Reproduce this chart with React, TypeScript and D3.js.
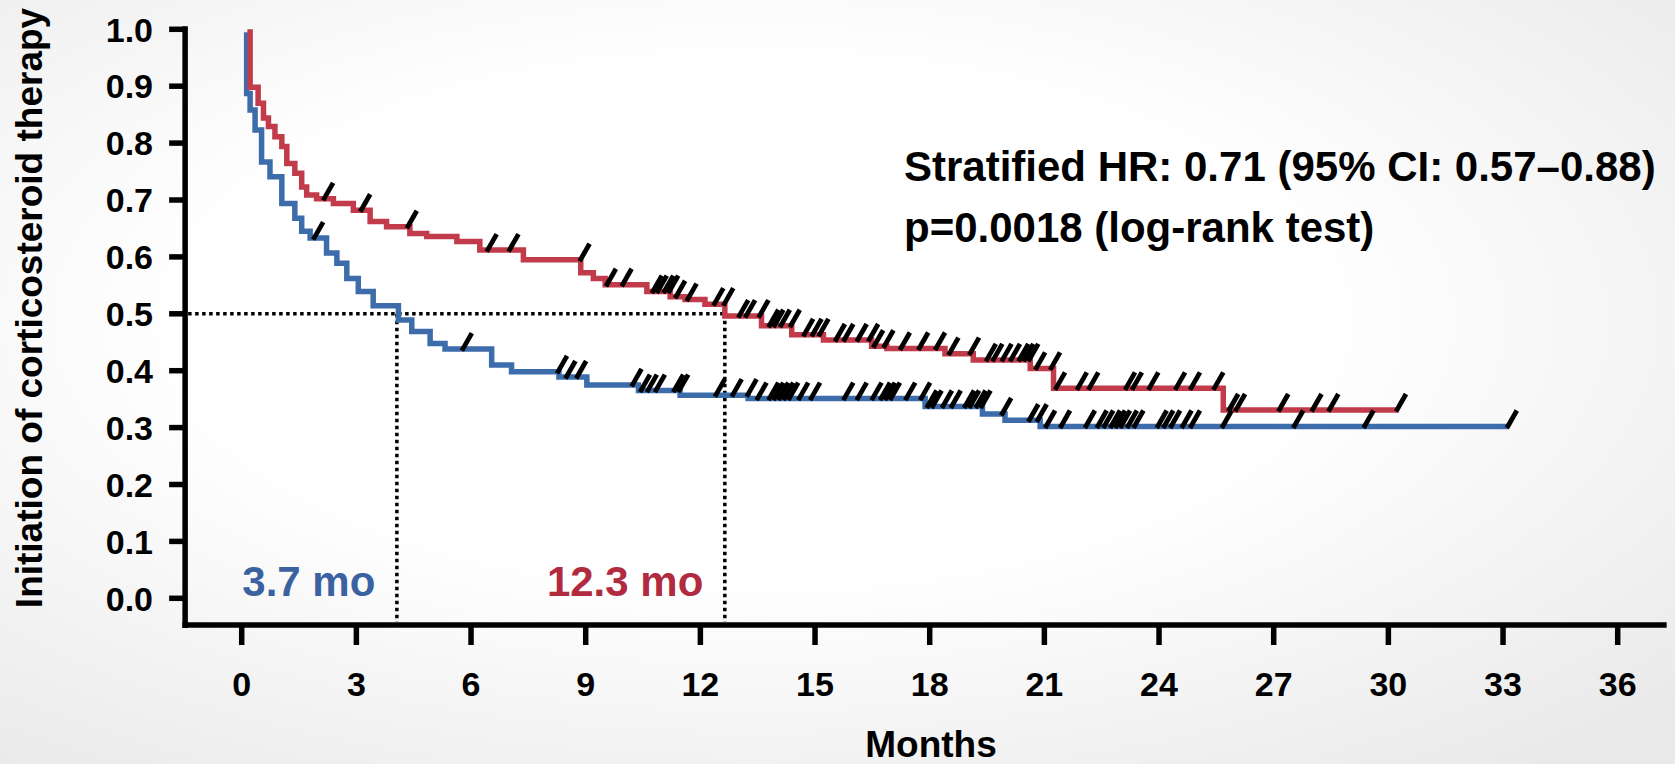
import React, { useEffect, useRef } from 'react';
import * as d3 from 'd3';

// Kaplan-Meier style steps (months, fraction without therapy)
const blueTimes = [0.13, 0.13, 0.22, 0.35, 0.52, 0.74, 1.05, 1.39, 1.57, 1.79, 2.22, 2.49, 2.75, 3.05, 3.44, 4.1, 4.45, 4.93, 5.32, 6.54, 7.06, 8.3, 9.03, 10.38, 11.47, 13.25, 17.88, 19.38, 19.97, 20.89, 33.14];
const blueValues = [0.995, 0.887, 0.858, 0.823, 0.767, 0.741, 0.694, 0.668, 0.645, 0.633, 0.607, 0.589, 0.562, 0.539, 0.514, 0.489, 0.469, 0.448, 0.438, 0.41, 0.398, 0.389, 0.375, 0.365, 0.357, 0.351, 0.337, 0.324, 0.313, 0.302, 0.302];

const redTimes = [0.22, 0.22, 0.43, 0.57, 0.7, 0.87, 1.05, 1.18, 1.39, 1.57, 1.7, 1.96, 2.4, 2.92, 3.36, 3.79, 4.4, 4.84, 5.63, 6.23, 7.37, 8.87, 9.2, 9.51, 10.6, 11.21, 11.6, 12.12, 12.64, 13.6, 14.39, 15.22, 16.48, 16.88, 18.4, 19.14, 20.63, 21.24, 25.68, 30.26];
const redValues = [1.0, 0.898, 0.87, 0.844, 0.829, 0.811, 0.794, 0.764, 0.747, 0.723, 0.709, 0.702, 0.694, 0.682, 0.662, 0.653, 0.641, 0.636, 0.627, 0.612, 0.595, 0.572, 0.562, 0.551, 0.539, 0.53, 0.525, 0.517, 0.496, 0.479, 0.463, 0.454, 0.443, 0.439, 0.43, 0.419, 0.404, 0.369, 0.331, 0.331];

// censored patients (tick marks)
const blueCensored = [1.87, 5.76, 8.25, 8.47, 8.75, 10.2, 10.42, 10.6, 10.81, 11.29, 11.42, 12.38, 12.82, 13.21, 13.47, 13.78, 13.91, 14.04, 14.17, 14.3, 14.56, 14.87, 15.74, 16.09, 16.48, 16.7, 16.83, 16.96, 17.36, 17.75, 17.92, 18.05, 18.32, 18.55, 18.9, 19.03, 19.2, 19.33, 19.87, 20.58, 20.8, 21.02, 21.41, 22.06, 22.37, 22.54, 22.72, 22.85, 22.98, 23.16, 23.33, 23.94, 24.11, 24.29, 24.59, 24.81, 25.64, 27.51, 29.35, 33.1];
const redCensored = [2.13, 3.1, 4.32, 6.41, 6.98, 8.84, 9.53, 9.94, 10.73, 10.86, 11.03, 11.16, 11.34, 11.64, 12.34, 12.6, 12.99, 13.17, 13.52, 13.78, 13.91, 14.08, 14.34, 14.69, 14.91, 15.09, 15.52, 15.74, 16.09, 16.39, 16.52, 16.79, 17.22, 17.7, 18.14, 18.49, 19.03, 19.47, 19.64, 19.88, 20.1, 20.32, 20.45, 20.58, 20.76, 21.15, 21.28, 21.85, 22.15, 23.11, 23.29, 23.72, 24.42, 24.81, 25.42, 25.81, 25.99, 27.12, 27.99, 28.43, 30.2];

const xTicks = [0, 3, 6, 9, 12, 15, 18, 21, 24, 27, 30, 33, 36];
const yTicks = [0, 0.1, 0.2, 0.3, 0.4, 0.5, 0.6, 0.7, 0.8, 0.9, 1.0];

// median markers: where the dotted lines drop, and their labels
const medianTimes = [4.06, 12.64];
const medianLabels = ['3.7 mo', '12.3 mo'];
const medianLevel = 0.5;

const statLines = ['Stratified HR: 0.71 (95% CI: 0.57\u20130.88)', 'p=0.0018 (log-rank test)'];

const BLUE = '#3c6caa';
const RED = '#c23b4b';
const BLUE_TEXT = '#3a62a0';
const RED_TEXT = '#b22a40';
const FONT = '"Liberation Sans", Arial, sans-serif';

const W = 1675;
const H = 764;

const App = () => {
  const ref = useRef(null);

  useEffect(() => {
    if (!ref.current) return;
    const svg = d3.select(ref.current);
    svg.selectAll('*').remove();

    const x = d3.scaleLinear().domain([0, 36]).range([241.7, 1617.7]);
    const y = d3.scaleLinear().domain([0, 1]).range([598.3, 29.3]);

    // soft grey vignette behind everything
    const defs = svg.append('defs');
    const grad = defs.append('radialGradient').attr('id', 'bg').attr('cx', '45%').attr('cy', '42%').attr('r', '75%');
    grad.append('stop').attr('offset', '45%').attr('stop-color', '#ffffff');
    grad.append('stop').attr('offset', '100%').attr('stop-color', '#e9e9e9');
    svg.append('rect').attr('width', W).attr('height', H).attr('fill', 'url(#bg)');

    const axisLeftX = x(-1.48);
    const axisBottomY = 625;

    // axes
    svg.append('line')
      .attr('x1', axisLeftX).attr('x2', axisLeftX)
      .attr('y1', y(1) - 3).attr('y2', axisBottomY + 3)
      .attr('stroke', '#000').attr('stroke-width', 5.5);
    svg.append('line')
      .attr('x1', axisLeftX - 2.75).attr('x2', x(37.28))
      .attr('y1', axisBottomY).attr('y2', axisBottomY)
      .attr('stroke', '#000').attr('stroke-width', 5.5);

    svg.append('g').selectAll('line').data(yTicks).join('line')
      .attr('x1', axisLeftX - 16).attr('x2', axisLeftX)
      .attr('y1', d => y(d)).attr('y2', d => y(d))
      .attr('stroke', '#000').attr('stroke-width', 5.5);
    svg.append('g').selectAll('text').data(yTicks).join('text')
      .attr('x', 153).attr('y', d => y(d)).attr('dy', '0.36em')
      .attr('text-anchor', 'end')
      .style('font-family', FONT).style('font-weight', 'bold').style('font-size', '34px')
      .text(d => d3.format('.1f')(d));

    svg.append('g').selectAll('line').data(xTicks).join('line')
      .attr('x1', d => x(d)).attr('x2', d => x(d))
      .attr('y1', axisBottomY).attr('y2', axisBottomY + 20)
      .attr('stroke', '#000').attr('stroke-width', 5.5);
    svg.append('g').selectAll('text').data(xTicks).join('text')
      .attr('x', d => x(d)).attr('y', 695.5)
      .attr('text-anchor', 'middle')
      .style('font-family', FONT).style('font-weight', 'bold').style('font-size', '34px')
      .text(d => d);

    svg.append('text')
      .attr('x', 931).attr('y', 757)
      .attr('text-anchor', 'middle')
      .style('font-family', FONT).style('font-weight', 'bold').style('font-size', '37px')
      .text('Months');

    svg.append('text')
      .attr('transform', 'translate(41.5, 308) rotate(-90)')
      .attr('text-anchor', 'middle')
      .style('font-family', FONT).style('font-weight', 'bold').style('font-size', '37px')
      .text('Initiation of corticosteroid therapy');

    // dotted median guides
    const dotted = svg.append('g').attr('stroke', '#000').attr('stroke-width', 3.5).attr('stroke-dasharray', '3.5,3.5');
    dotted.append('line')
      .attr('x1', axisLeftX + 3).attr('x2', x(d3.max(medianTimes)))
      .attr('y1', y(medianLevel)).attr('y2', y(medianLevel));
    dotted.selectAll('line.v').data(medianTimes).join('line').attr('class', 'v')
      .attr('x1', d => x(d)).attr('x2', d => x(d))
      .attr('y1', y(medianLevel)).attr('y2', axisBottomY - 3);

    svg.append('g').selectAll('text').data(medianTimes).join('text')
      .attr('x', d => x(d) - 21.5).attr('y', 596)
      .attr('text-anchor', 'end')
      .attr('fill', (d, i) => (i === 0 ? BLUE_TEXT : RED_TEXT))
      .style('font-family', FONT).style('font-weight', 'bold').style('font-size', '42px')
      .text((d, i) => medianLabels[i]);

    // survival curves
    const line = d3.line().x(d => x(d[0])).y(d => y(d[1])).curve(d3.curveStepAfter);
    const series = [
      { times: blueTimes, values: blueValues, censored: blueCensored, color: BLUE },
      { times: redTimes, values: redValues, censored: redCensored, color: RED },
    ];
    series.forEach(s => {
      svg.append('path')
        .attr('d', line(s.times.map((t, i) => [t, s.values[i]])))
        .attr('fill', 'none')
        .attr('stroke', s.color)
        .attr('stroke-width', 5.5)
        .attr('stroke-linejoin', 'miter')
        .attr('stroke-linecap', 'butt');
    });

    const levelAt = (times, values, t) => {
      const i = d3.bisectRight(times, t) - 1;
      return values[Math.max(0, i)];
    };
    series.forEach(s => {
      svg.append('g').selectAll('line').data(s.censored).join('line')
        .attr('x1', d => x(d)).attr('y1', d => y(levelAt(s.times, s.values, d)) + 1.5)
        .attr('x2', d => x(d) + 10).attr('y2', d => y(levelAt(s.times, s.values, d)) - 16)
        .attr('stroke', '#000').attr('stroke-width', 4.8);
    });

    // statistics
    svg.append('g').selectAll('text').data(statLines).join('text')
      .attr('x', 904).attr('y', (d, i) => 181 + i * 61)
      .style('font-family', FONT).style('font-weight', 'bold').style('font-size', '42px')
      .text(d => d);
  }, []);

  return (
    <svg
      ref={ref}
      width={W}
      height={H}
      style={{ position: 'absolute', left: 0, top: 0, display: 'block' }}
    />
  );
};

export default App;
